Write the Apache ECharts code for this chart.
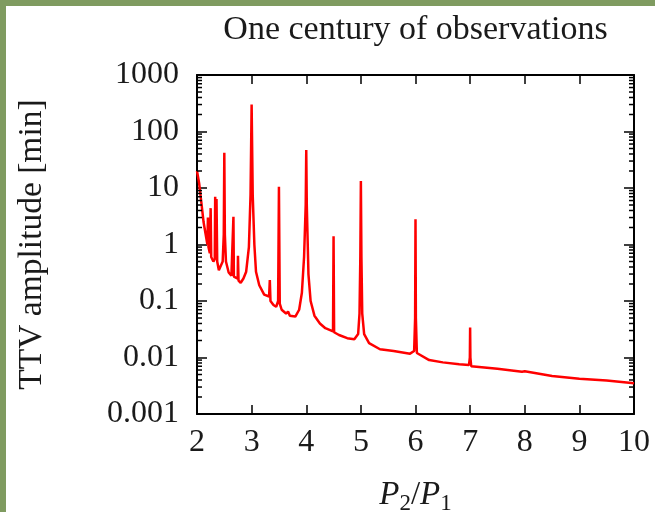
<!DOCTYPE html>
<html>
<head>
<meta charset="utf-8">
<script src="https://cdn.jsdelivr.net/npm/echarts@6/dist/echarts.min.js"></script>
<style>
  html, body { margin: 0; padding: 0; background: #fff; }
  #chart { width: 655px; height: 512px; }
</style>
</head>
<body>
<div id="chart"></div>
<script>
// Period ratio P2/P1 and TTV amplitude (minutes) over one century
const ratio = [
  2.00, 2.04, 2.08, 2.12, 2.17, 2.19, 2.20, 2.21, 2.235, 2.245, 2.25, 2.26, 2.30, 2.325, 2.333, 2.345, 2.357, 2.37,
  2.40, 2.43, 2.47, 2.49, 2.50, 2.51, 2.53, 2.58, 2.63, 2.66, 2.667, 2.675, 2.71, 2.745, 2.75, 2.76, 2.80, 2.85,
  2.90, 2.95, 2.98, 3.00, 3.02, 3.05, 3.08, 3.14, 3.23, 3.32, 3.333, 3.345, 3.40, 3.45, 3.485, 3.50, 3.515, 3.55,
  3.63, 3.667, 3.70, 3.80, 3.87, 3.92, 3.96, 3.99, 4.00, 4.01, 4.04, 4.08, 4.15, 4.25, 4.35, 4.49, 4.50, 4.51,
  4.60, 4.75, 4.88, 4.95, 4.975, 4.99, 5.00, 5.01, 5.025, 5.06, 5.15, 5.35, 5.60, 5.90, 5.975, 5.993, 6.00, 6.007, 6.025, 6.25,
  6.50, 6.80, 6.98, 6.995, 7.00, 7.005, 7.02, 7.50, 7.95, 8.00, 8.03, 8.50, 9.00, 9.50, 10.00
];
const ttv = [
  20, 12, 5.5, 2.5, 1.3, 1.0, 3.0, 0.9, 0.7, 0.65, 4.4, 0.6, 0.5, 0.55, 7.0, 0.7, 6.4, 0.5,
  0.35, 0.33, 0.5, 1.5, 42, 1.5, 0.5, 0.32, 0.28, 0.28, 3.1, 0.27, 0.25, 0.25, 0.63, 0.23, 0.21, 0.25,
  0.33, 0.9, 7.5, 300, 7.5, 1.0, 0.33, 0.19, 0.13, 0.12, 0.235, 0.1, 0.085, 0.079, 0.1, 10.5, 0.09, 0.07,
  0.06, 0.065, 0.055, 0.053, 0.07, 0.14, 0.6, 5, 47, 5, 0.3, 0.1, 0.055, 0.04, 0.033, 0.029, 1.4, 0.028,
  0.025, 0.022, 0.021, 0.026, 0.06, 0.6, 13.3, 0.6, 0.06, 0.026, 0.018, 0.014, 0.013, 0.0117, 0.013, 0.05, 2.8, 0.05, 0.012, 0.009,
  0.0082, 0.0076, 0.0074, 0.01, 0.034, 0.01, 0.0070, 0.0063, 0.0056, 0.0057, 0.0055, 0.0047, 0.0042, 0.0039, 0.0035
];

const xTickLabels = ['2', '3', '4', '5', '6', '7', '8', '9', '10'];
const yTickLabels = ['0.001', '0.01', '0.1', '1', '10', '100', '1000'];
const X_MIN = 2, X_MAX = 10, Y_MIN = 0.001, Y_MAX = 1000;

// Minor log ticks (2..9 within each decade)
const minorTicks = [];
for (let d = Y_MIN; d < Y_MAX * 0.99; d *= 10) {
  for (let k = 2; k <= 9; k++) minorTicks.push([X_MIN, d * k]);
}

const FONT = '"Liberation Serif", "Times New Roman", serif';
const INK = '#1a1a1a';
const FRAME = '#000';
const GREEN = '#7f9b60';

const chart = echarts.init(document.getElementById('chart'), null, { renderer: 'canvas' });

const baseX = {
  type: 'value', min: X_MIN, max: X_MAX, interval: 1,
  axisLine: { show: true, onZero: false, lineStyle: { color: FRAME, width: 2 } },
  axisTick: { show: true, inside: true, length: 9, lineStyle: { color: FRAME, width: 1.5 } },
  splitLine: { show: false }
};
const baseY = {
  type: 'log', logBase: 10, min: Y_MIN, max: Y_MAX, splitNumber: 6,
  axisLine: { show: true, onZero: false, lineStyle: { color: FRAME, width: 2 } },
  axisTick: { show: true, inside: true, length: 10, lineStyle: { color: FRAME, width: 1.5 } },
  splitLine: { show: false }
};

chart.setOption({
  animation: false,
  backgroundColor: '#fff',
  title: {
    text: 'One century of observations',
    left: 410.5, top: 8, textAlign: 'center',
    textStyle: { fontFamily: FONT, fontSize: 34, fontWeight: 'normal', color: INK }
  },
  grid: {
    left: 197, top: 75, width: 437, height: 339,
    containLabel: false, outerBoundsMode: 'none'
  },
  xAxis: [
    Object.assign({}, baseX, {
      position: 'bottom',
      axisLabel: {
        show: true, margin: 13, fontFamily: FONT, fontSize: 32, color: INK,
        formatter: v => xTickLabels[Math.round(v - X_MIN)]
      },
      name: '{i|P}{s|2}{n|/}{i|P}{s|1}',
      nameLocation: 'middle', nameGap: 61,
      nameTextStyle: {
        fontFamily: FONT, fontSize: 32, color: INK,
        rich: {
          i: { fontFamily: FONT, fontSize: 33, fontStyle: 'italic', color: INK },
          n: { fontFamily: FONT, fontSize: 33, color: INK },
          s: { fontFamily: FONT, fontSize: 23, color: INK, padding: [17, 0, 0, 0] }
        }
      }
    }),
    Object.assign({}, baseX, { position: 'top', axisLabel: { show: false } })
  ],
  yAxis: [
    Object.assign({}, baseY, {
      position: 'left',
      axisLabel: {
        show: true, margin: 18, fontFamily: FONT, fontSize: 32, color: INK,
        formatter: v => yTickLabels[Math.round(Math.log10(v)) + 3]
      },
      name: 'TTV amplitude [min]',
      nameLocation: 'middle', nameGap: 148,
      nameTextStyle: { fontFamily: FONT, fontSize: 33.5, color: INK }
    }),
    Object.assign({}, baseY, { position: 'right', axisLabel: { show: false } })
  ],
  graphic: [
    { type: 'rect', shape: { x: 0, y: 0, width: 655, height: 6 }, style: { fill: GREEN }, z: 100 },
    { type: 'rect', shape: { x: 0, y: 0, width: 6, height: 512 }, style: { fill: GREEN }, z: 100 }
  ],
  series: [
    {
      type: 'line',
      xAxisIndex: 0, yAxisIndex: 0,
      data: ratio.map((r, i) => [r, ttv[i]]),
      showSymbol: false, symbol: 'none',
      lineStyle: { color: '#ff0000', width: 2.5 },
      clip: true, z: 3
    },
    {
      type: 'custom',
      xAxisIndex: 0, yAxisIndex: 0,
      data: minorTicks,
      silent: true, clip: false, z: 5,
      renderItem: (params, api) => {
        const v = api.value(1);
        const l = api.coord([X_MIN, v]);
        const r = api.coord([X_MAX, v]);
        const st = { stroke: FRAME, lineWidth: 1.5 };
        return {
          type: 'group',
          children: [
            { type: 'line', shape: { x1: l[0], y1: l[1], x2: l[0] + 5, y2: l[1] }, style: st },
            { type: 'line', shape: { x1: r[0], y1: r[1], x2: r[0] - 5, y2: r[1] }, style: st }
          ]
        };
      }
    }
  ]
});
</script>
</body>
</html>
